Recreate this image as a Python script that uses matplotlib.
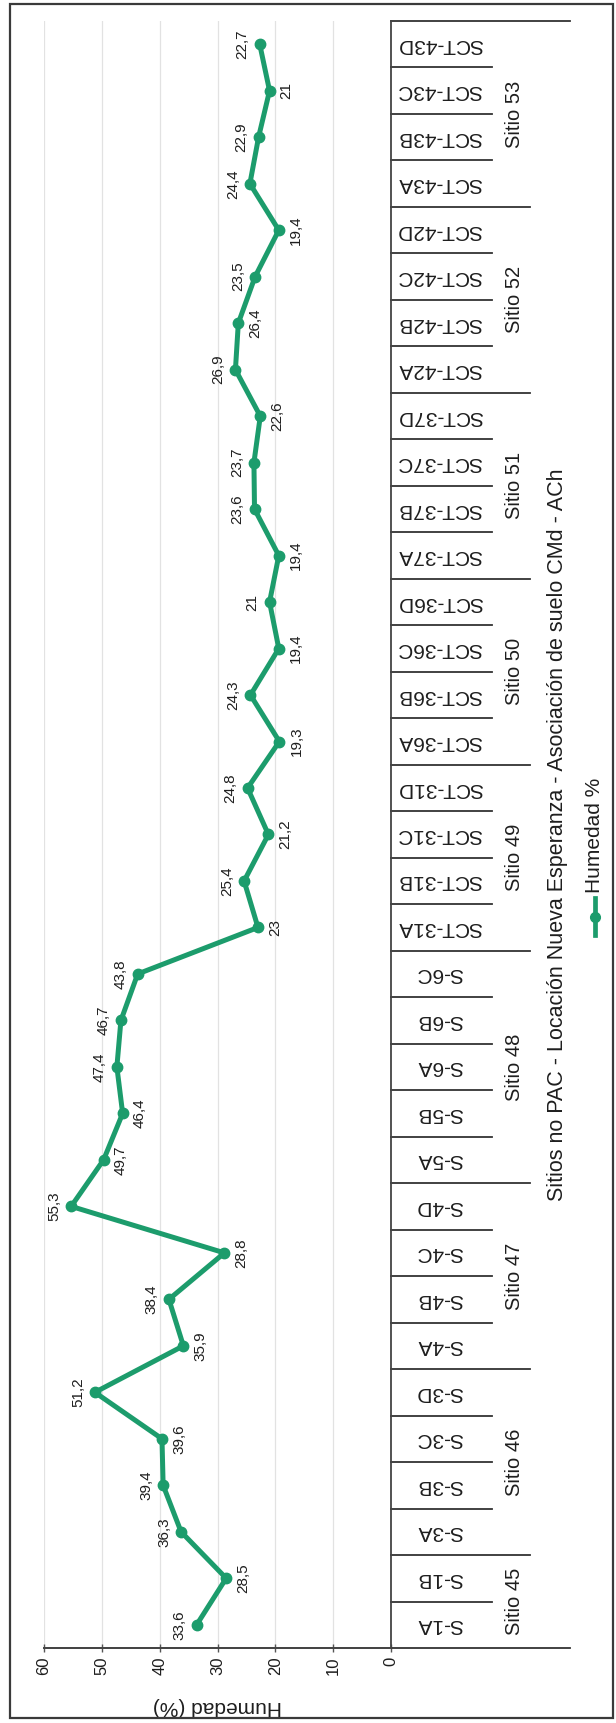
import matplotlib
matplotlib.use("Agg")
import matplotlib.pyplot as plt
from matplotlib.lines import Line2D
from matplotlib.patches import Rectangle
from matplotlib.transforms import blended_transform_factory

plt.rcParams["font.family"] = ["Liberation Sans", "DejaVu Sans"]

categorias = ["S-1A", "S-1B", "S-3A", "S-3B", "S-3C", "S-3D", "S-4A", "S-4B", "S-4C", "S-4D",
              "S-5A", "S-5B", "S-6A", "S-6B", "S-6C",
              "SCT-31A", "SCT-31B", "SCT-31C", "SCT-31D",
              "SCT-36A", "SCT-36B", "SCT-36C", "SCT-36D",
              "SCT-37A", "SCT-37B", "SCT-37C", "SCT-37D",
              "SCT-42A", "SCT-42B", "SCT-42C", "SCT-42D",
              "SCT-43A", "SCT-43B", "SCT-43C", "SCT-43D"]
humedad = [33.6, 28.5, 36.3, 39.4, 39.6, 51.2, 35.9, 38.4, 28.8, 55.3,
           49.7, 46.4, 47.4, 46.7, 43.8,
           23.0, 25.4, 21.2, 24.8,
           19.3, 24.3, 19.4, 21.0,
           19.4, 23.6, 23.7, 22.6,
           26.9, 26.4, 23.5, 19.4,
           24.4, 22.9, 21.0, 22.7]
# etiqueta arriba (1) o abajo (-1) del punto en el grafico original
pos_etiqueta = [1, -1, 1, 1, -1, 1, -1, 1, -1, 1,
                -1, -1, 1, 1, 1,
                -1, 1, -1, 1,
                -1, 1, -1, 1,
                -1, 1, 1, -1,
                1, -1, 1, -1,
                1, 1, -1, 1]
sitios = ["Sitio 45", "Sitio 46", "Sitio 47", "Sitio 48", "Sitio 49",
          "Sitio 50", "Sitio 51", "Sitio 52", "Sitio 53"]
n_por_sitio = [2, 4, 4, 5, 4, 4, 4, 4, 4]

verde = "#1c9c6c"
texto = "#1e1e1e"
W, H = 616, 1723

fig = plt.figure(figsize=(W / 100, H / 100), dpi=100)
# grafico girado 90 grados: valores en horizontal (60 a la izquierda), categorias de abajo hacia arriba
ax = fig.add_axes([44 / W, 75 / H, 347 / W, 1627 / H])

y = list(range(len(categorias)))
ax.plot(humedad, y, color=verde, lw=3.6, marker="o", ms=7.5, mfc=verde, mec=verde, zorder=3)

for i, v in enumerate(humedad):
    etiqueta = f"{v:g}".replace(".", ",")
    dx = -17 if pos_etiqueta[i] > 0 else 17
    ax.annotate(etiqueta, (v, i), xytext=(dx, 0), textcoords="offset pixels",
                rotation=90, ha="center", va="center", fontsize=11, color=texto)

ax.set_xlim(60, 0)
ax.set_ylim(-0.5, len(categorias) - 0.5)
ax.set_xticks(range(0, 61, 10))
ax.tick_params(axis="x", direction="inout", length=6, width=1, color="#555555",
               labelsize=12, labelrotation=90, pad=3, labelcolor=texto)
ax.grid(axis="x", color="#e2e2e2", lw=0.9)
ax.set_axisbelow(True)

for s in ["top", "left"]:
    ax.spines[s].set_visible(False)
ax.spines["bottom"].set_color("#444444")
ax.spines["right"].set_color("#444444")
ax.spines["bottom"].set_linewidth(1.3)
ax.spines["right"].set_linewidth(1.3)

ax.yaxis.tick_right()
ax.set_yticks(y)
ax.set_yticklabels(categorias, rotation=180, ha="center", va="center", fontsize=15, color=texto)
ax.tick_params(axis="y", length=0, pad=35)

ax.set_xlabel("Humedad (%)", fontsize=15, color=texto, rotation=180)
ax.xaxis.set_label_coords(0.5, -0.030)

# tabla del eje de categorias con dos niveles
tr = blended_transform_factory(ax.transAxes, ax.transData)
def fx(px):
    return (px - 44) / 347

limites = [0]
for n in n_por_sitio:
    limites.append(limites[-1] + n)
for k in range(len(categorias) + 1):
    if k in (0, len(categorias)):
        fin = 570
    elif k in limites:
        fin = 530
    else:
        fin = 492
    ax.plot([1.0, fx(fin)], [k - 0.5, k - 0.5], transform=tr, color="#333333",
            lw=1.3, clip_on=False)
ax.plot([0.0, 1.0], [-0.5, -0.5], transform=tr, color="#444444", lw=1.3, clip_on=False)

for j, nombre in enumerate(sitios):
    centro = (limites[j] + limites[j + 1] - 1) / 2
    ax.text(fx(515), centro, nombre, transform=tr, rotation=90, ha="center", va="center",
            fontsize=14.5, color=texto)

ax.text(fx(557), 0.5, "Sitios no PAC - Locación Nueva Esperanza - Asociación de suelo CMd - ACh",
        transform=ax.transAxes, rotation=90, ha="center", va="center", fontsize=15.5, color=texto)

# leyenda dibujada a mano (girada)
fig.add_artist(Line2D([595 / W, 595 / W], [(H - 935) / H, (H - 898) / H], color=verde, lw=3.4))
fig.add_artist(Line2D([595 / W], [(H - 917) / H], color=verde, marker="o", ms=7))
fig.text(595 / W, (H - 893) / H, "Humedad %", rotation=90, ha="center", va="bottom",
         fontsize=15, color=texto)

# marco de la pagina escaneada
fig.add_artist(Rectangle((10 / W, (H - 1718) / H), 603 / W, 1714 / H, transform=fig.transFigure,
                         fill=False, ec="#3a3a3a", lw=1.6))

fig.savefig("out.png", dpi=100, facecolor="white")
